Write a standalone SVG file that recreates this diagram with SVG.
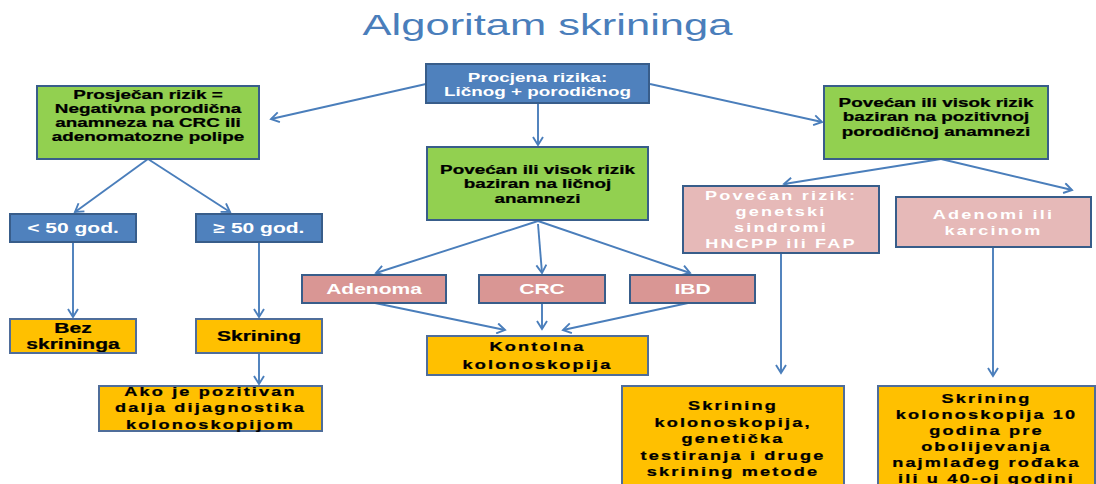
<svg xmlns="http://www.w3.org/2000/svg" width="1096" height="484" viewBox="0 0 1096 484">
<style>
text{font-family:"Liberation Sans",Arial,sans-serif;font-weight:bold;text-anchor:middle}
.t{font-weight:normal;font-size:30px;fill:#4A7EBB}
.w{fill:#FFFFFF}
.k{fill:#000000;stroke:#000000;stroke-width:0.25px}
.s13{font-size:13px}
.s145{font-size:14.5px}
.sp{font-size:12.5px;letter-spacing:1.5px}
.blue{fill:#4F81BD;stroke:#385D8A;stroke-width:2}
.green{fill:#92D050;stroke:#385D8A;stroke-width:2}
.pinkL{fill:#E6B9B8;stroke:#385D8A;stroke-width:2}
.pinkM{fill:#D99694;stroke:#385D8A;stroke-width:2}
.yel{fill:#FFC000;stroke:#4F6D9A;stroke-width:2}
.c line{stroke:#4A7EBB;stroke-width:1.9;fill:none;marker-end:url(#ah)}
</style>
<defs>
<marker id="ah" markerUnits="userSpaceOnUse" markerWidth="12" markerHeight="12" refX="9" refY="6" orient="auto">
<path d="M1,1 L9,6 L1,11" fill="none" stroke="#4A7EBB" stroke-width="1.9"/>
</marker>
</defs>
<rect width="1096" height="484" fill="#FFFFFF"/>
<g id="title" transform="translate(547.5 0) scale(1.45 1)"><text class="t" x="0" y="35">Algoritam skrininga</text></g>

<g class="c" id="connectors">
<line x1="426" y1="84" x2="271" y2="119"/>
<line x1="538" y1="103" x2="538" y2="145"/>
<line x1="650" y1="84" x2="822" y2="122"/>
<line x1="148" y1="159" x2="75" y2="212"/>
<line x1="148" y1="159" x2="230" y2="212"/>
<line x1="73" y1="242" x2="73" y2="317"/>
<line x1="259" y1="242" x2="259" y2="317"/>
<line x1="259" y1="353" x2="259" y2="384"/>
<line x1="538" y1="221" x2="376" y2="273"/>
<line x1="538" y1="224" x2="542" y2="273"/>
<line x1="538" y1="221" x2="690" y2="273"/>
<line x1="375" y1="303" x2="505" y2="330"/>
<line x1="542" y1="303" x2="542" y2="329"/>
<line x1="688" y1="303" x2="563" y2="330"/>
<line x1="941" y1="159" x2="784" y2="184"/>
<line x1="941" y1="159" x2="1072" y2="190"/>
<line x1="781" y1="253" x2="781" y2="373"/>
<line x1="993" y1="247" x2="993" y2="376"/>
</g>

<g id="procjena">
<rect class="blue" x="426" y="64" width="223" height="39"/>
<g transform="translate(537.5 0) scale(1.45 1)"><text class="w s13"><tspan x="0" y="82">Procjena rizika:</tspan><tspan x="0" y="96">Ličnog + porodičnog</tspan></text></g>
</g>

<g id="prosjecan">
<rect class="green" x="37" y="86" width="222" height="73"/>
<g transform="translate(148 0) scale(1.45 1)"><text class="k s13"><tspan x="0" y="99">Prosječan rizik =</tspan><tspan x="0" y="113">Negativna porodična</tspan><tspan x="0" y="127.5">anamneza na CRC ili</tspan><tspan x="0" y="141.5">adenomatozne polipe</tspan></text></g>
</g>

<g id="licna">
<rect class="green" x="427" y="147" width="221" height="73"/>
<g transform="translate(537.5 0) scale(1.45 1)"><text class="k s13"><tspan x="0" y="174">Povećan ili visok rizik</tspan><tspan x="0" y="188.5">baziran na  ličnoj</tspan><tspan x="0" y="203">anamnezi</tspan></text></g>
</g>

<g id="porodicna">
<rect class="green" x="824" y="86" width="224" height="73"/>
<g transform="translate(936 0) scale(1.45 1)"><text class="k s13"><tspan x="0" y="107">Povećan ili visok rizik</tspan><tspan x="0" y="121.5">baziran na pozitivnoj</tspan><tspan x="0" y="136">porodičnoj anamnezi</tspan></text></g>
</g>

<g id="lt50">
<rect class="blue" x="10" y="214" width="126" height="28"/>
<g transform="translate(73 0) scale(1.45 1)"><text class="w s145" x="0" y="233">&lt; 50 god.</text></g>
</g>

<g id="ge50">
<rect class="blue" x="196" y="214" width="126" height="28"/>
<g transform="translate(259 0) scale(1.45 1)"><text class="w s145" x="0" y="233">≥ 50 god.</text></g>
</g>

<g id="bez">
<rect class="yel" x="10" y="319" width="126" height="34"/>
<g transform="translate(73 0) scale(1.45 1)"><text class="k s145"><tspan x="0" y="333.5">Bez</tspan><tspan x="0" y="349">skrininga</tspan></text></g>
</g>

<g id="skrining">
<rect class="yel" x="196" y="319" width="126" height="34"/>
<g transform="translate(259 0) scale(1.45 1)"><text class="k s145" x="0" y="341.5">Skrining</text></g>
</g>

<g id="ako">
<rect class="yel" x="99" y="386" width="223" height="45"/>
<g transform="translate(210.5 0) scale(1.45 1)"><text class="k sp"><tspan x="0" y="396.5">Ako je pozitivan</tspan><tspan x="0" y="412.5">dalja dijagnostika</tspan><tspan x="0" y="429">kolonoskopijom</tspan></text></g>
</g>

<g id="adenoma">
<rect class="pinkM" x="302" y="275" width="144" height="28"/>
<g transform="translate(374 0) scale(1.45 1)"><text class="w s145" x="0" y="294.5">Adenoma</text></g>
</g>

<g id="crc">
<rect class="pinkM" x="479" y="275" width="126" height="28"/>
<g transform="translate(542 0) scale(1.45 1)"><text class="w s145" x="0" y="294.5">CRC</text></g>
</g>

<g id="ibd">
<rect class="pinkM" x="630" y="275" width="125" height="28"/>
<g transform="translate(692.5 0) scale(1.45 1)"><text class="w s145" x="0" y="294.5">IBD</text></g>
</g>

<g id="kontolna">
<rect class="yel" x="427" y="336" width="221" height="39"/>
<g transform="translate(537.5 0) scale(1.45 1)"><text class="k sp"><tspan x="0" y="351.5">Kontolna</tspan><tspan x="0" y="369">kolonoskopija</tspan></text></g>
</g>

<g id="genetski">
<rect class="pinkL" x="683" y="186" width="196" height="67"/>
<g transform="translate(781 0) scale(1.45 1)"><text class="w sp"><tspan x="0" y="200.5">Povećan rizik:</tspan><tspan x="0" y="216.5">genetski</tspan><tspan x="0" y="232.5">sindromi</tspan><tspan x="0" y="248.5">HNCPP ili FAP</tspan></text></g>
</g>

<g id="adenomi">
<rect class="pinkL" x="896" y="197" width="195" height="50"/>
<g transform="translate(993.5 0) scale(1.45 1)"><text class="w sp"><tspan x="0" y="219">Adenomi ili</tspan><tspan x="0" y="235">karcinom</tspan></text></g>
</g>

<g id="skrGen">
<rect class="yel" x="622" y="386" width="222" height="110"/>
<g transform="translate(733 0) scale(1.45 1)"><text class="k sp"><tspan x="0" y="410.5">Skrining</tspan><tspan x="0" y="427">kolonoskopija,</tspan><tspan x="0" y="443.5">genetička</tspan><tspan x="0" y="460">testiranja i druge</tspan><tspan x="0" y="476">skrining metode</tspan></text></g>
</g>

<g id="skrKol">
<rect class="yel" x="878" y="386" width="217" height="110"/>
<g transform="translate(986.5 0) scale(1.45 1)"><text class="k sp"><tspan x="0" y="403.5">Skrining</tspan><tspan x="0" y="419.5">kolonoskopija 10</tspan><tspan x="0" y="435.5">godina pre</tspan><tspan x="0" y="451.5">obolijevanja</tspan><tspan x="0" y="467.5">najmlađeg rođaka</tspan><tspan x="0" y="483.5">ili u 40-oj godini</tspan></text></g>
</g>
</svg>
